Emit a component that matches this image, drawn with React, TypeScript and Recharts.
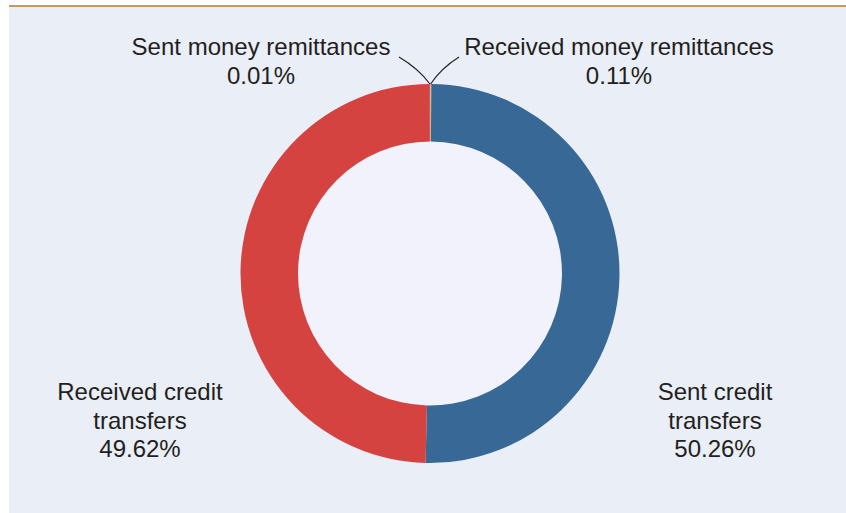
import { PieChart, Pie, Cell } from "recharts";

const categories = [
  "Received money remittances",
  "Sent credit transfers",
  "Received credit transfers",
  "Sent money remittances",
];
const shares = [0.11, 50.26, 49.62, 0.01];
const colors = ["#cbb98d", "#386895", "#d4433f", "#b9a77c"];

// words before the line break in each label (0 = keep on one line)
const wrapAfter = [0, 2, 2, 0];

const data = categories.map((name, i) => ({ name, value: shares[i] }));

// where each label sits (centre x, first baseline) and where its leader line ends
const labelSpots = [
  { x: 619, y: 55, lineTo: { x: 459, y: 57 } },
  { x: 715, y: 400 },
  { x: 140, y: 400 },
  { x: 261, y: 55, lineTo: { x: 399, y: 57 } },
];

const RAD = Math.PI / 180;

const renderLabel = (props: any) => {
  const { index, cx, cy, outerRadius, midAngle } = props;
  const spot = labelSpots[index];
  const words = categories[index].split(" ");
  const rows =
    wrapAfter[index] > 0
      ? [words.slice(0, wrapAfter[index]).join(" "), words.slice(wrapAfter[index]).join(" ")]
      : [categories[index]];
  rows.push(`${shares[index].toFixed(2)}%`);

  let leader = null;
  if (spot.lineTo) {
    const sx = cx + outerRadius * Math.cos(-midAngle * RAD);
    const sy = cy + outerRadius * Math.sin(-midAngle * RAD);
    const ex = spot.lineTo.x;
    const ey = spot.lineTo.y;
    const qx = (sx + ex) / 2 + (ex < sx ? 4 : -4);
    const qy = (sy + ey) / 2 - 2;
    leader = (
      <path
        d={`M${sx},${sy} Q${qx},${qy} ${ex},${ey}`}
        stroke="#222"
        strokeWidth={1.2}
        fill="none"
      />
    );
  }

  return (
    <g>
      {leader}
      <text
        x={spot.x}
        y={spot.y}
        textAnchor="middle"
        fill="#231f20"
        fontSize={24}
        fontFamily="'Liberation Sans', Arial, sans-serif"
      >
        {rows.map((r, i) => (
          <tspan key={i} x={spot.x} dy={i === 0 ? 0 : 28.5}>
            {r}
          </tspan>
        ))}
      </text>
    </g>
  );
};

export default function App() {
  return (
    <div style={{ position: "absolute", left: 0, top: 0, width: 846, height: 513 }}>
      <div
        style={{
          position: "absolute",
          left: 9,
          top: 5,
          right: 0,
          height: 2,
          background: "#c09a60",
        }}
      />
      <div
        style={{
          position: "absolute",
          left: 9,
          top: 7,
          right: 0,
          bottom: 0,
          background: "#eaeef7",
        }}
      />
      <div style={{ position: "absolute", left: 0, top: 0 }}>
        <PieChart
          width={846}
          height={513}
          margin={{ top: 0, right: 0, bottom: 0, left: 0 }}
        >
          <Pie
            data={[{ name: "centre", value: 1 }]}
            dataKey="value"
            cx={430}
            cy={273.5}
            innerRadius={0}
            outerRadius={132}
            fill="#f1f2fc"
            stroke="none"
            isAnimationActive={false}
          />
          <Pie
            data={data}
            dataKey="value"
            nameKey="name"
            cx={430}
            cy={273.5}
            innerRadius={132}
            outerRadius={189.5}
            startAngle={90}
            endAngle={-270}
            stroke="none"
            label={renderLabel}
            labelLine={false}
            isAnimationActive={false}
          >
            {data.map((d, i) => (
              <Cell key={d.name} fill={colors[i]} />
            ))}
          </Pie>
        </PieChart>
      </div>
    </div>
  );
}
